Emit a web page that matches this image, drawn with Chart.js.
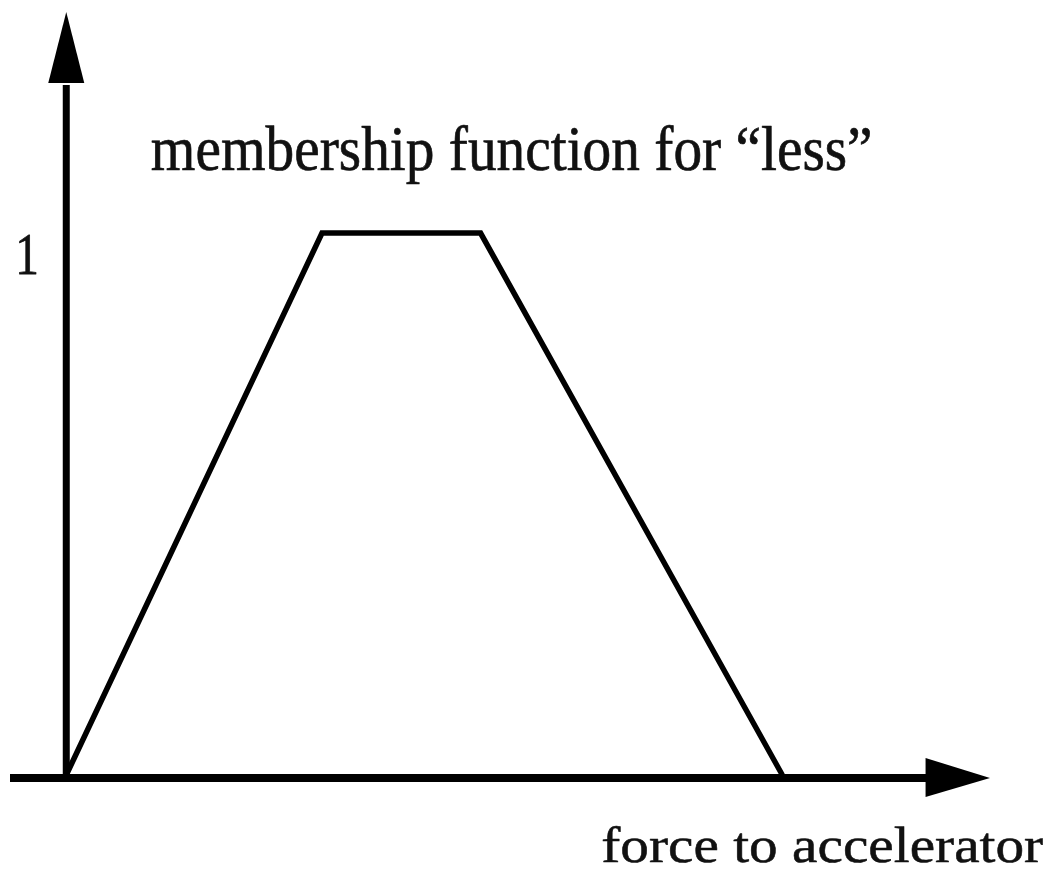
<!DOCTYPE html>
<html>
<head>
<meta charset="utf-8">
<title>membership function for “less”</title>
<script src="https://cdn.jsdelivr.net/npm/chart.js@4.4.1/dist/chart.umd.min.js"></script>
<style>
  html, body { margin: 0; padding: 0; background: #fff; }
  canvas { display: block; }
</style>
</head>
<body>
<canvas id="chartCanvas" width="1050" height="876"></canvas>
<script>
// trapezoid corners of the "less" membership function
const forceValues = [0, 2.5, 4.05, 7];
const membership = [0, 1, 1, 0];

// axis extents (data units)
const xRange = [-0.55, 9.03];
const yRange = [0, 1.408];
const xArrowBase = 8.4;
const yArrowBase = 1.277;

const yTicks = ['1'];
const titleText = 'membership function for “less”';
const xLabel = 'force to accelerator';

// serif text stretched into a given box, lightly stroked so it reads heavier
function drawFitted(ctx, text, x0, x1, top, base) {
  ctx.save();
  ctx.font = '100px "Liberation Serif", "DejaVu Serif", serif';
  ctx.fillStyle = '#111';
  ctx.strokeStyle = '#111';
  ctx.textBaseline = 'alphabetic';
  const m = ctx.measureText(text);
  const w = m.actualBoundingBoxLeft + m.actualBoundingBoxRight;
  const h = m.actualBoundingBoxAscent;
  const sx = (x1 - x0) / w, sy = (base - top) / h;
  ctx.translate(x0, base);
  ctx.scale(sx, sy);
  ctx.lineWidth = 0.6 / sx;
  ctx.lineJoin = 'round';
  ctx.fillText(text, m.actualBoundingBoxLeft, 0);
  ctx.strokeText(text, m.actualBoundingBoxLeft, 0);
  ctx.restore();
}

const axesPlugin = {
  id: 'arrowAxes',
  beforeDatasetsDraw(chart) {
    const ctx = chart.ctx;
    const xs = chart.scales.x, ys = chart.scales.y;
    const x0 = xs.getPixelForValue(0);
    const y0 = ys.getPixelForValue(0) + 3;

    ctx.save();
    ctx.strokeStyle = '#000';
    ctx.fillStyle = '#000';
    ctx.lineCap = 'butt';

    // vertical axis
    ctx.lineWidth = 7;
    ctx.beginPath();
    ctx.moveTo(x0, y0 + 4);
    ctx.lineTo(x0, ys.getPixelForValue(yArrowBase) + 2);
    ctx.stroke();
    ctx.beginPath();
    ctx.moveTo(x0, ys.getPixelForValue(yRange[1]));
    ctx.lineTo(x0 - 18, ys.getPixelForValue(yArrowBase));
    ctx.lineTo(x0 + 18, ys.getPixelForValue(yArrowBase));
    ctx.closePath();
    ctx.fill();

    // horizontal axis
    ctx.lineWidth = 8;
    ctx.beginPath();
    ctx.moveTo(xs.getPixelForValue(xRange[0]), y0);
    ctx.lineTo(xs.getPixelForValue(xArrowBase) + 2, y0);
    ctx.stroke();
    ctx.beginPath();
    ctx.moveTo(xs.getPixelForValue(xRange[1]), y0);
    ctx.lineTo(xs.getPixelForValue(xArrowBase), y0 - 20);
    ctx.lineTo(xs.getPixelForValue(xArrowBase), y0 + 19);
    ctx.closePath();
    ctx.fill();
    ctx.restore();
  },
  afterDraw(chart) {
    const ctx = chart.ctx;
    const ys = chart.scales.y;
    const y1 = ys.getPixelForValue(1);
    drawFitted(ctx, yTicks[0], 19, 36, y1 + 2, y1 + 41);
    drawFitted(ctx, titleText, 152, 870, 125, 170);
    drawFitted(ctx, xLabel, 603, 1043, 826, 862);
  }
};

const ctx = document.getElementById('chartCanvas').getContext('2d');
new Chart(ctx, {
  type: 'line',
  data: {
    datasets: [{
      label: 'less',
      data: forceValues.map((x, i) => ({ x: x, y: membership[i] })),
      borderColor: '#000',
      borderWidth: 5.5,
      borderJoinStyle: 'miter',
      pointRadius: 0,
      tension: 0,
      fill: false,
      clip: false
    }]
  },
  options: {
    responsive: false,
    animation: false,
    layout: { padding: { left: 10, right: 60, top: 12, bottom: 101 } },
    plugins: {
      legend: { display: false },
      tooltip: { enabled: false },
      title: { display: false }
    },
    scales: {
      x: { type: 'linear', display: false, min: xRange[0], max: xRange[1] },
      y: { type: 'linear', display: false, min: yRange[0], max: yRange[1] }
    }
  },
  plugins: [axesPlugin]
});
</script>
</body>
</html>
